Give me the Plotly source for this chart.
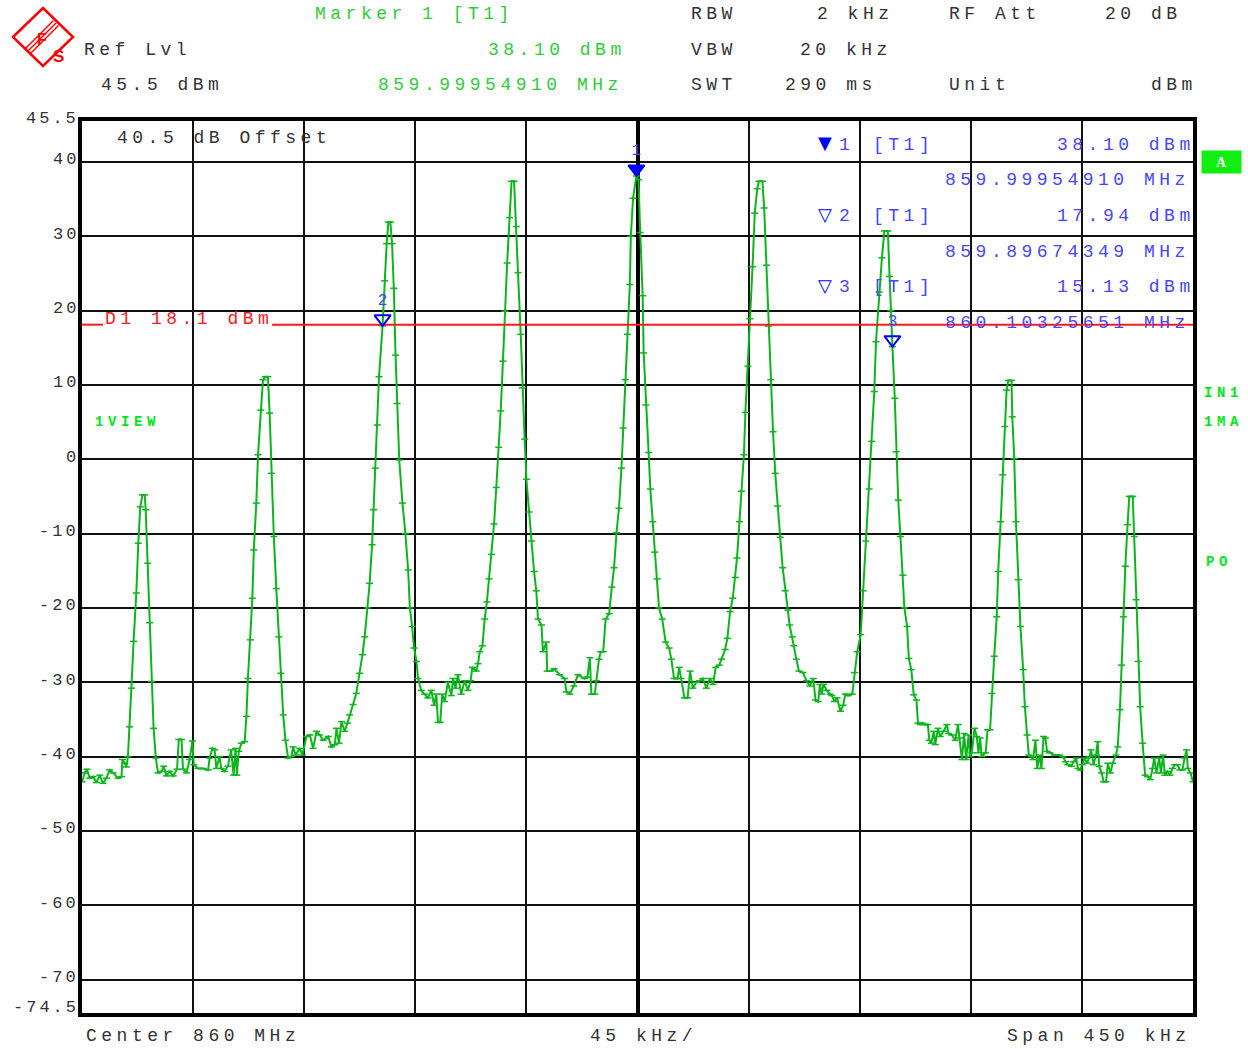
import plotly.graph_objects as go

# ---------------------------------------------------------------------------
# Measured sweep: offset from the 860 MHz centre (kHz) and level (dBm)
# ---------------------------------------------------------------------------
FREQ_KHZ = [
    -225.0, -223.9, -223.0, -221.9, -220.5, -219.2, -217.8, -216.5, -215.1, -213.8,
    -212.4, -210.4, -209.0, -208.6, -207.7, -207.0, -206.4, -205.7, -205.0, -204.1,
    -203.0, -202.2, -201.4, -200.5, -199.6, -199.2, -198.4, -197.6, -196.8, -196.0,
    -195.1, -194.2, -192.8, -191.9, -190.8, -189.5, -188.1, -186.5, -185.8, -184.7,
    -184.1, -182.7, -181.4, -180.3, -179.7, -178.0, -176.0, -173.9, -173.3, -172.2,
    -171.3, -170.6, -169.3, -168.6, -167.3, -165.9, -164.6, -163.6, -162.8, -162.3,
    -161.5, -160.4, -159.1, -158.4, -157.8, -156.8, -156.0, -155.4, -154.4, -153.7,
    -152.6, -151.7, -150.7, -149.7, -149.0, -148.3, -147.3, -146.3, -145.3, -144.5,
    -143.5, -142.6, -141.5, -140.2, -139.5, -138.5, -136.8, -135.7, -134.1, -132.7,
    -131.4, -130.0, -128.7, -127.3, -125.3, -124.0, -122.6, -121.9, -120.9, -119.9,
    -118.6, -117.5, -116.6, -115.2, -113.9, -112.5, -111.4, -110.5, -109.4, -108.5,
    -107.5, -106.9, -106.2, -105.4, -104.7, -103.26, -102.4, -101.6, -100.9, -100.1,
    -99.4, -98.7, -98.0, -97.4, -96.5, -95.2, -94.0, -92.9, -92.2, -91.3,
    -90.5, -89.5, -88.9, -87.6, -86.2, -84.9, -83.5, -82.4, -81.5, -80.8,
    -79.9, -79.1, -78.1, -76.8, -75.4, -74.7, -73.7, -72.7, -71.4, -70.0,
    -68.7, -67.6, -66.9, -65.3, -64.6, -63.9, -62.8, -61.9, -61.0, -60.1,
    -59.1, -58.1, -57.2, -56.2, -55.4, -54.5, -53.7, -52.8, -51.8, -51.0,
    -50.0, -49.1, -48.4, -47.3, -46.6, -45.7, -45.0, -43.9, -43.0, -41.9,
    -41.0, -40.3, -38.9, -38.3, -36.9, -36.6, -35.2, -33.8, -31.5, -29.5,
    -28.8, -27.4, -25.8, -24.1, -21.4, -20.3, -19.3, -18.7, -17.3, -16.7,
    -15.6, -14.9, -13.9, -12.9, -11.5, -10.4, -9.5, -8.5, -7.5, -6.5,
    -5.8, -5.0, -4.1, -3.1, -2.7, -1.8, -0.45, 0.4, 1.1, 2.1,
    2.5, 3.4, 4.5, 5.2, 6.2, 7.0, 8.0, 8.7, 10.0, 11.4,
    12.8, 13.7, 14.8, 16.2, 16.9, 17.6, 19.0, 20.3, 21.3, 22.4,
    23.8, 25.1, 26.5, 27.9, 29.3, 30.6, 31.7, 33.1, 34.1, 35.5,
    36.4, 37.5, 38.6, 39.6, 40.3, 41.3, 42.1, 43.1, 43.7, 44.7,
    45.5, 46.6, 47.5, 48.5, 49.2, 50.6, 51.3, 52.2, 53.0, 54.0,
    54.9, 55.8, 56.7, 57.8, 58.8, 59.8, 60.9, 61.6, 62.7, 63.3,
    64.3, 65.4, 67.0, 68.4, 69.8, 71.2, 72.1, 73.2, 73.9, 74.6,
    75.3, 76.7, 78.0, 78.7, 79.8, 80.8, 82.2, 83.3, 84.2, 85.3,
    87.0, 87.9, 89.0, 90.4, 91.4, 92.5, 93.8, 94.9, 95.9, 96.6,
    97.9, 99.0, 100.0, 101.4, 102.1, 102.6, 103.26, 104.2, 104.8, 105.6,
    106.5, 107.5, 108.1, 109.2, 109.9, 110.9, 111.9, 113.0, 113.6, 114.6,
    115.3, 116.6, 117.6, 118.2, 119.0, 120.0, 120.6, 121.7, 122.6, 124.0,
    125.3, 126.0, 127.3, 128.7, 129.8, 130.4, 131.4, 132.3, 133.1, 134.1,
    134.7, 135.4, 136.5, 137.4, 138.1, 138.8, 139.4, 141.0, 141.8, 142.8,
    143.5, 144.5, 145.5, 146.1, 147.1, 147.9, 148.8, 149.5, 150.2, 151.5,
    151.8, 152.6, 153.3, 154.2, 155.1, 156.2, 156.9, 157.8, 158.5, 159.6,
    160.2, 161.2, 161.9, 162.9, 163.6, 164.5, 165.2, 165.9, 166.9, 168.9,
    170.9, 172.3, 173.4, 174.3, 175.7, 176.6, 177.7, 178.4, 179.3, 180.1,
    181.1, 182.1, 183.1, 183.7, 184.7, 185.7, 186.4, 187.0, 188.0, 188.8,
    189.8, 190.5, 191.5, 192.5, 193.8, 194.5, 195.4, 196.1, 196.8, 197.6,
    198.5, 199.2, 200.6, 201.2, 201.9, 202.8, 203.6, 204.6, 205.6, 206.6,
    207.7, 208.6, 209.3, 210.2, 211.3, 212.0, 212.9, 213.6, 214.6, 215.7,
    216.7, 217.6, 218.7, 219.7, 220.7, 221.6, 222.4, 222.9, 224.0, 225.0,
]

LEVEL_DBM = [
    -43.4, -42.2, -41.7, -42.9, -42.7, -43.5, -42.5, -43.6, -42.9, -41.8,
    -42.2, -42.9, -42.7, -40.4, -40.9, -41.4, -40.0, -36.0, -30.8, -24.5,
    -18.0, -11.3, -6.4, -4.8, -4.8, -6.8, -14.0, -22.0, -29.9, -36.2,
    -40.2, -42.2, -42.0, -41.3, -42.6, -42.0, -42.6, -41.7, -37.7, -37.7,
    -41.7, -42.2, -40.4, -37.9, -41.1, -41.6, -41.6, -41.8, -40.2, -38.9,
    -39.1, -41.6, -40.0, -41.6, -42.0, -41.3, -39.1, -42.5, -38.9, -42.5,
    -39.3, -38.2, -38.0, -34.6, -29.5, -24.3, -18.7, -12.2, -5.9, 0.6,
    6.6, 10.7, 11.1, 11.1, 6.2, -1.9, -10.4, -17.4, -23.9, -28.8,
    -34.4, -37.8, -40.2, -40.0, -38.7, -39.8, -38.9, -39.8, -37.3, -37.1,
    -38.9, -36.6, -37.1, -37.8, -37.3, -38.7, -38.4, -36.2, -38.2, -35.3,
    -36.6, -35.5, -34.4, -33.0, -31.5, -28.8, -26.3, -23.9, -20.0, -16.7,
    -11.5, -6.8, -1.2, 4.6, 11.1, 17.94, 24.0, 29.0, 31.9, 31.9,
    29.0, 23.0, 14.0, 7.5, -0.1, -5.9, -10.0, -14.9, -20.0, -22.5,
    -25.4, -27.2, -29.5, -31.1, -31.6, -32.1, -31.1, -33.1, -31.6, -35.4,
    -35.4, -31.6, -32.6, -30.0, -31.8, -29.5, -30.8, -29.0, -31.6, -29.8,
    -31.1, -29.8, -28.0, -28.5, -27.5, -25.9, -25.1, -21.5, -19.2, -16.1,
    -12.8, -8.7, -3.8, 1.6, 6.5, 13.2, 19.9, 26.4, 32.5, 37.4,
    37.4, 31.3, 25.1, 16.8, 9.6, 2.7, -2.7, -7.1, -11.0, -15.1,
    -17.7, -21.5, -22.3, -25.9, -24.6, -28.5, -28.5, -28.2, -29.0, -29.5,
    -31.3, -31.6, -30.5, -29.0, -29.5, -29.3, -26.7, -31.6, -31.6, -29.8,
    -26.9, -25.9, -25.9, -21.5, -20.8, -17.2, -14.6, -9.9, -6.6, -1.2,
    4.2, 10.7, 16.8, 23.5, 30.0, 35.1, 38.10, 37.6, 30.5, 22.0,
    14.3, 7.3, 0.9, -4.0, -8.4, -12.5, -16.1, -20.0, -21.5, -24.6,
    -25.4, -26.9, -29.5, -29.5, -28.0, -29.5, -32.1, -32.1, -28.5, -30.8,
    -30.0, -29.8, -29.5, -30.8, -29.5, -30.3, -28.0, -27.7, -26.9, -25.6,
    -24.1, -20.5, -18.7, -15.9, -13.3, -8.4, -4.3, 0.6, 6.3, 12.5,
    18.9, 25.9, 33.1, 36.4, 37.4, 37.4, 33.8, 26.1, 17.9, 10.7,
    3.7, -1.9, -6.3, -10.5, -14.6, -17.7, -20.3, -22.3, -23.9, -25.1,
    -26.9, -28.5, -28.7, -29.8, -30.5, -29.5, -32.4, -32.6, -30.3, -31.6,
    -30.3, -31.1, -31.6, -31.8, -32.6, -32.1, -33.9, -33.1, -31.6, -31.8,
    -31.6, -28.7, -25.9, -23.6, -17.7, -11.0, -4.0, 2.4, 9.1, 15.8,
    22.5, 27.1, 30.7, 30.7, 24.6, 20.0, 15.13, 8.2, 1.0, -5.5,
    -10.4, -15.6, -20.0, -22.5, -26.8, -28.3, -31.7, -32.4, -35.5, -35.7,
    -35.5, -35.7, -35.7, -37.8, -38.2, -36.6, -38.4, -36.2, -37.3, -36.6,
    -35.7, -36.9, -37.1, -37.8, -35.7, -37.5, -40.4, -36.9, -40.4, -37.1,
    -40.0, -39.5, -36.2, -37.3, -39.5, -37.5, -40.0, -39.5, -36.4, -36.4,
    -31.5, -26.5, -21.2, -15.1, -8.4, -2.1, 4.4, 9.3, 10.6, 10.6,
    5.7, 0.1, -8.4, -16.2, -22.5, -28.3, -33.3, -37.1, -39.8, -40.0,
    -40.4, -37.8, -41.6, -39.8, -41.6, -37.3, -37.5, -39.3, -39.5, -39.8,
    -39.8, -40.0, -40.7, -41.1, -41.3, -40.7, -40.2, -41.6, -41.8, -41.1,
    -40.2, -40.9, -40.0, -39.1, -41.1, -39.8, -38.0, -41.3, -42.2, -43.4,
    -43.4, -40.9, -42.2, -40.9, -39.8, -38.7, -33.7, -27.7, -21.2, -14.4,
    -8.8, -5.0, -5.0, -10.4, -18.9, -27.2, -33.3, -38.2, -42.5, -42.7,
    -43.1, -41.6, -40.2, -42.2, -40.2, -42.2, -39.8, -42.5, -42.0, -42.5,
    -41.6, -41.1, -41.1, -41.8, -41.8, -40.2, -39.1, -41.6, -42.2, -43.4,
]

# Instrument settings
CENTER_MHZ = 860.0
SPAN_KHZ = 450
DIV_KHZ = 45
REF_LEVEL = 45.5
BOTTOM_LEVEL = -74.5
D1_LEVEL = 18.1

# Markers (frequency in MHz, level in dBm)
MARKER_IDS = ["1", "2", "3"]
MARKER_FREQ_MHZ = [859.99954910, 859.89674349, 860.10325651]
MARKER_LEVEL = [38.10, 17.94, 15.13]

# Level axis labels
Y_GRID = [40, 30, 20, 10, 0, -10, -20, -30, -40, -50, -60, -70]
Y_LABELS = ["45.5", "40", "30", "20", "10", "0", "-10", "-20", "-30",
            "-40", "-50", "-60", "-70", "-74.5"]
Y_LABEL_VALUES = [45.5, 40, 30, 20, 10, 0, -10, -20, -30, -40, -50, -60, -70, -74.5]

# ---------------------------------------------------------------------------
W, H = 1248, 1049
ML, MR, MT, MB = 82, 55, 121, 36
PW, PH = W - ML - MR, H - MT - MB

MONO = "Liberation Mono"
GREY = "#333333"
TRACE_GREEN = "#0cb51c"
TEXT_GREEN = "#2fcc3a"
LABEL_GREEN = "#00e61a"
BLUE = "#4646ff"
RED = "#ff1a1a"
FS = 18          # character size of the readout text
GAP = 4.5        # extra spacing between characters


def px(x):
    return (x - ML) / PW


def py(y):
    return (H - MB - y) / PH


def spaced(s, gap):
    return f'<span style="letter-spacing:{gap}px">{s}</span>'


annotations = []


def label(x, y, text, color, size=FS, gap=GAP, bold=False, anchor="left",
          family=MONO):
    t = spaced(text, gap)
    if bold:
        t = f"<b>{t}</b>"
    annotations.append(dict(
        xref="paper", yref="paper", x=px(x), y=py(y), text=t,
        showarrow=False, xanchor=anchor, yanchor="middle",
        font=dict(family=family, size=size, color=color),
    ))


half = SPAN_KHZ / 2
x_grid = [-half + DIV_KHZ * i for i in range(int(SPAN_KHZ / DIV_KHZ) + 1)]

fig = go.Figure()

# Spectrum trace with its sample ticks
fig.add_trace(go.Scatter(
    x=FREQ_KHZ, y=LEVEL_DBM, mode="lines+markers",
    line=dict(color=TRACE_GREEN, width=2),
    marker=dict(symbol="line-ew", size=5, line=dict(width=1.5, color=TRACE_GREEN)),
    hoverinfo="skip", showlegend=False,
))

# Display line D1, broken where its label sits
d1_gap = (-216.5, -148.0)
fig.add_trace(go.Scatter(
    x=[-half, d1_gap[0], None, d1_gap[1], half],
    y=[D1_LEVEL, D1_LEVEL, None, D1_LEVEL, D1_LEVEL],
    mode="lines", line=dict(color=RED, width=2),
    hoverinfo="skip", showlegend=False,
))

# Markers: triangles point down onto the trace, number above
marker_khz = [(f - CENTER_MHZ) * 1000 for f in MARKER_FREQ_MHZ]
tip_lift = 0.95  # dB, raises the triangle so its tip sits on the level
for i, (mid, fk, lv) in enumerate(zip(MARKER_IDS, marker_khz, MARKER_LEVEL)):
    filled = i == 0
    fig.add_trace(go.Scatter(
        x=[fk], y=[lv + tip_lift], mode="markers+text",
        marker=dict(symbol="triangle-down" if filled else "triangle-down-open",
                    size=14, color="#0000ff",
                    line=dict(width=2, color="#0000ff")),
        text=[mid], textposition="top center",
        textfont=dict(family=MONO, size=16, color=BLUE),
        hoverinfo="skip", showlegend=False, cliponaxis=False,
    ))

# Level axis labels
for val, txt in zip(Y_LABEL_VALUES, Y_LABELS):
    shift = 2
    if val == REF_LEVEL:
        shift = 3
    if val == BOTTOM_LEVEL:
        shift = 6
    annotations.append(dict(
        xref="paper", yref="y", x=px(78 + 3), y=val, text=spaced(txt, 3),
        showarrow=False, xanchor="right", yanchor="middle", yshift=shift,
        font=dict(family=MONO, size=17, color=GREY),
    ))

# Header block
label(313, 14, "Marker 1 [T1]", TEXT_GREEN)
label(486, 50, f"{MARKER_LEVEL[0]:.2f} dBm", TEXT_GREEN)
label(376, 85, f"{MARKER_FREQ_MHZ[0]:.8f} MHz", TEXT_GREEN)
label(82, 50, "Ref Lvl", GREY)
label(99, 85, f"{REF_LEVEL} dBm", GREY)
label(689, 14, "RBW", GREY)
label(815, 14, "2 kHz", GREY)
label(689, 50, "VBW", GREY)
label(798, 50, "20 kHz", GREY)
label(689, 85, "SWT", GREY)
label(783, 85, "290 ms", GREY)
label(947, 14, "RF Att", GREY)
label(1103, 14, "20 dB", GREY)
label(947, 85, "Unit", GREY)
label(1149, 85, "dBm", GREY)

# Inside the graticule
label(115, 138, "40.5 dB Offset", GREY)
label(103, 319, f"D1 {D1_LEVEL} dBm", RED)

# Marker table
rows = [(145, 180), (216, 252), (287, 323)]
for i, (ya, yb) in enumerate(rows):
    tri = "\u25bc" if i == 0 else "\u25bd"
    label(816, ya - 2, tri, "#0000ff", size=18, gap=0, family="DejaVu Sans")
    label(837, ya, MARKER_IDS[i], BLUE)
    label(871, ya, "[T1]", BLUE)
    label(1055, ya, f"{MARKER_LEVEL[i]:.2f} dBm", BLUE)
    label(943, yb, f"{MARKER_FREQ_MHZ[i]:.8f} MHz", BLUE)

# Side annotations
label(93, 422, "1VIEW", LABEL_GREEN, size=14, gap=4.6, bold=True)
label(1202, 393, "IN1", LABEL_GREEN, size=14, gap=4.6, bold=True)
label(1202, 422, "1MA", LABEL_GREEN, size=14, gap=4.6, bold=True)
label(1204, 562, "PO", LABEL_GREEN, size=14, gap=4.6, bold=True)

# Footer
label(84, 1036, f"Center {CENTER_MHZ:g} MHz", GREY)
label(588, 1036, f"{DIV_KHZ} kHz/", GREY)
label(1005, 1036, f"Span {SPAN_KHZ} kHz", GREY)

# Trace "A" badge
annotations.append(dict(xref="paper", yref="paper", x=px(1221.5), y=py(161.5),
                        xanchor="center", yanchor="middle",
                        text="<b>A</b>", showarrow=False, width=37, height=20,
                        bgcolor="#11ee11", borderpad=1,
                        font=dict(family="Liberation Serif", size=14, color="white")))

shapes = []


# Logo: red diamond with diagonal bars and lettering
def path(points):
    return "M " + " L ".join(f"{px(a):.5f},{py(b):.5f}" for a, b in points) + " Z"


shapes.append(dict(type="path", xref="paper", yref="paper",
                   path=path([(13, 37), (43, 8), (73, 37), (43, 66)]),
                   line=dict(color="#ff0000", width=2.5)))
for off in (-2.5, 0, 2.5):
    shapes.append(dict(type="line", xref="paper", yref="paper",
                       x0=px(28 + off), y0=py(51 + off), x1=px(56 + off), y1=py(23 + off),
                       line=dict(color="#ff0000", width=1.5)))
annotations.append(dict(xref="paper", yref="paper", x=px(35), y=py(29), text="<b>F</b>",
                        showarrow=False, font=dict(family="Liberation Sans", size=16, color="#ff0000")))
annotations.append(dict(xref="paper", yref="paper", x=px(51), y=py(45), text="<b>S</b>",
                        showarrow=False, font=dict(family="Liberation Sans", size=17, color="#ff0000")))

fig.update_layout(
    width=W, height=H,
    margin=dict(l=ML, r=MR, t=MT, b=MB),
    paper_bgcolor="white", plot_bgcolor="white",
    showlegend=False,
    annotations=annotations, shapes=shapes,
    xaxis=dict(range=[-half, half], tickvals=x_grid, showticklabels=False,
               ticks="", showgrid=True, gridcolor="#111111", gridwidth=2,
               zeroline=True, zerolinecolor="#000000", zerolinewidth=4,
               showline=True, linecolor="#000000", linewidth=4, mirror=True,
               fixedrange=True),
    yaxis=dict(range=[BOTTOM_LEVEL, REF_LEVEL], tickvals=Y_GRID, showticklabels=False,
               ticks="", showgrid=True, gridcolor="#111111", gridwidth=2,
               zeroline=False,
               showline=True, linecolor="#000000", linewidth=4, mirror=True,
               fixedrange=True),
)

fig.write_html("out.html", config={"displayModeBar": False})
